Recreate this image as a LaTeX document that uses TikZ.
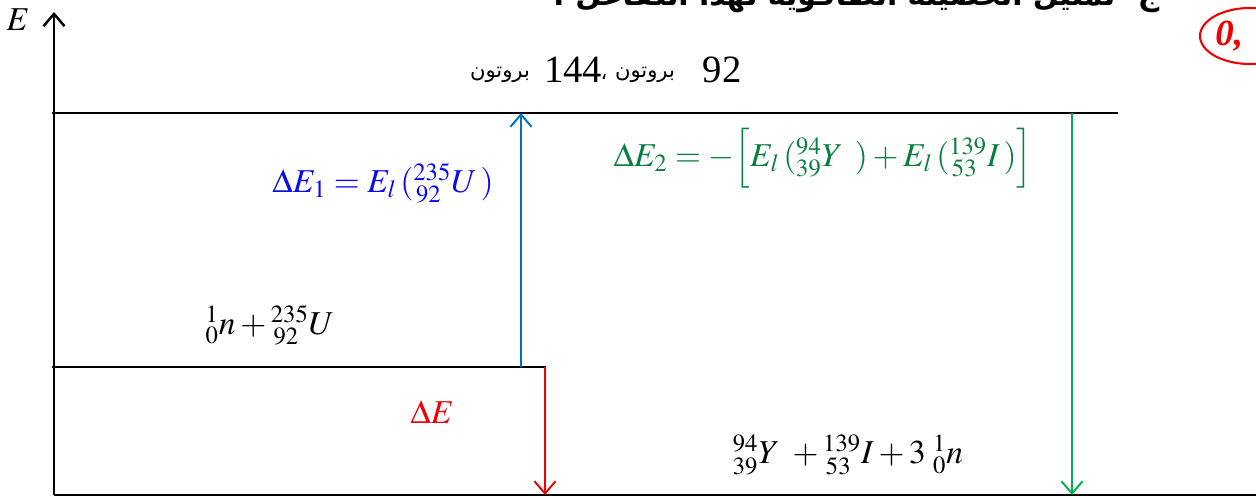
\documentclass[tikz,border=0pt]{standalone}
\usepackage{amsmath}
\usepackage{mathptmx}
\usepackage{fontspec}
\setmainfont{Liberation Serif}
\newfontfamily\arabicfont[Script=Arabic]{DejaVu Sans}
\TeXXeTstate=1
\usepackage{tikz}
\usetikzlibrary{arrows.meta,shapes.geometric}
\definecolor{upblue}{RGB}{0,112,192}
\definecolor{eqblue}{RGB}{10,10,240}
\definecolor{downgreen}{RGB}{0,176,80}
\definecolor{eqgreen}{RGB}{10,128,64}
\definecolor{markred}{RGB}{240,0,0}

\begin{document}
\begin{tikzpicture}[x=0.02cm, y=-0.02cm,
    lvl/.style={line width=1.4pt},
    tip/.style={-{Straight Barb[length=7pt,width=12pt]}},
    arr/.style={tip, line width=1.1pt},
    lbl/.style={inner sep=0pt, font=\fontsize{19}{23}\selectfont},
    num/.style={inner sep=0pt, font=\fontsize{22}{26}\selectfont},
    ar/.style={inner sep=0pt, font=\arabicfont\fontsize{12}{14}\selectfont}]

    \clip (0,0) rectangle (1256,497);

    % Axa energiei
    \coordinate (o)    at (54,495);
    \coordinate (etop) at (54,12);
    \coordinate (xend) at (1256,495);
    \draw[lvl, tip] (o) -- (etop);
    \draw[lvl] (o) -- (xend);
    \node[lbl] (elab) at (18,20) {$E$};

    % Nivele
    \coordinate (top0) at (52,113);
    \coordinate (top1) at (1118,113);
    \coordinate (mid0) at (52,367);
    \coordinate (mid1) at (546,367);
    \draw[lvl] (top0) -- (top1);
    \draw[lvl] (mid0) -- (mid1);

    % Sageti
    \coordinate (b0) at (521,367);
    \coordinate (b1) at (521,113);
    \coordinate (r0) at (545,367);
    \coordinate (r1) at (545,495);
    \coordinate (g0) at (1072,113);
    \coordinate (g1) at (1072,495);
    \draw[arr, upblue]    (b0) -- (b1);
    \draw[arr, markred]   (r0) -- (r1);
    \draw[arr, downgreen] (g0) -- (g1);

    % Etichete
    \node[lbl, text=eqblue]  (de1)  at (383,183)
        {$\Delta E_{1} = E_{l}\,({}^{235}_{\,92}U\,)$};
    \node[lbl, text=eqgreen] (de2)  at (823,158)
        {$\Delta E_{2} = -\Big[E_{l}\,({}^{94}_{39}Y\ \,) + E_{l}\,({}^{139}_{\,53}I\,)\Big]$};
    \node[lbl]               (reac) at (270,325)
        {${}^{1}_{0}n +{}^{235}_{\,92}U$};
    \node[lbl, text=markred] (de)   at (432,412) {$\Delta E$};
    \node[lbl]               (prod) at (848,455)
        {${}^{94}_{39}Y\ +{}^{139}_{\,53}I + 3\;{}^{1}_{0}n$};

    % Nucleoni
    \node[num] (n92)  at (722,70) {92};
    \node[ar]  (p1)   at (645,75) {\beginR بروتون\endR};
    \node[ar]  (comma) at (604,77) {\beginR ،\endR};
    \node[num] (n144) at (573,70) {144};
    \node[ar]  (p2)   at (500,75) {\beginR بروتون\endR};

    % Titlu taiat
    \node[anchor=base east, inner sep=0pt,
          font=\arabicfont\bfseries\fontsize{17}{20}\selectfont] (head) at (1160,6)
        {\beginR ج- تمثيل الحصيلة الطاقوية لهذا التفاعل :\endR};

    % Nota
    \node[ellipse, draw=markred, line width=1.2pt,
          minimum width=2cm, minimum height=1.12cm] (mark) at (1250,36) {};
    \node[anchor=west, inner sep=0pt, text=markred,
          font=\fontsize{21}{24}\selectfont\bfseries\itshape] (marktxt)
        at ([xshift=0.32cm]mark.west) {0,};

\end{tikzpicture}
\end{document}
